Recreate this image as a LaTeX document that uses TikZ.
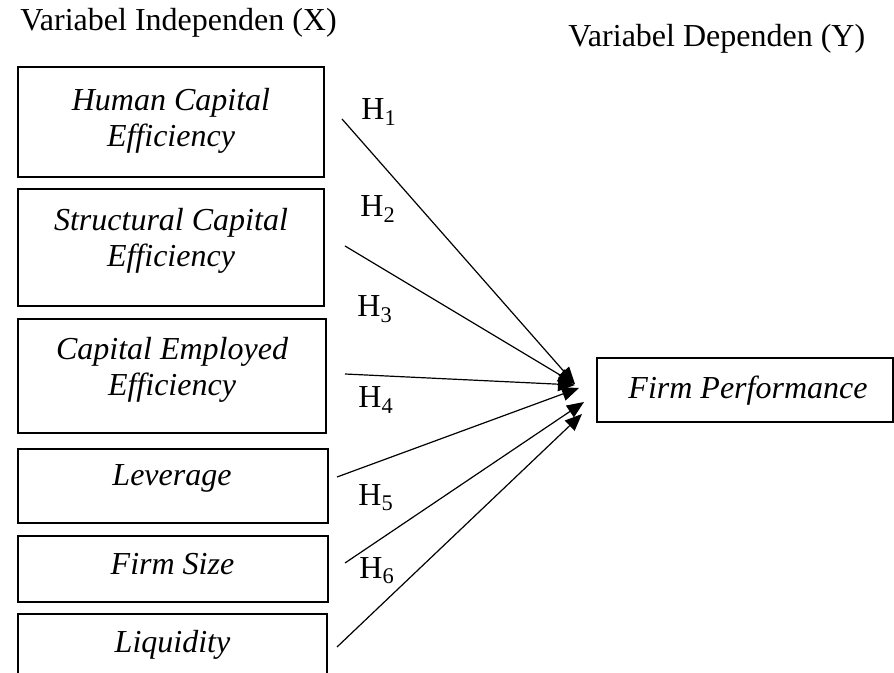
\documentclass[tikz,border=0pt]{standalone}
\usepackage{fontspec}
\setmainfont{Liberation Serif}
\usetikzlibrary{arrows.meta}
\begin{document}
\begin{tikzpicture}[x=0.5pt,y=-0.5pt,
  boxst/.style={draw,line width=1pt,inner sep=0pt,outer sep=0pt},
  txt/.style={font=\fontsize{16}{18}\selectfont,inner sep=0pt,align=center},
  itxt/.style={font=\fontsize{16}{18}\selectfont\itshape,inner sep=0pt,align=center},
  hl/.style={font=\fontsize{16}{18}\selectfont,inner sep=0pt,anchor=base west},
  arr/.style={line width=0.6pt,-{Triangle[length=8.5pt,width=7pt]}}]
\useasboundingbox (0,0) rectangle (894,673);
% titles
\node[txt,anchor=base west] (tx) at (20,31) {Variabel Independen (X)};
\node[txt,anchor=base west] (ty) at (568,47) {Variabel Dependen (Y)};
% boxes
\node[boxst,minimum width=153pt,minimum height=55pt] (b1) at (171,122) {};
\node[boxst,minimum width=153pt,minimum height=58.5pt] (b2) at (171,247.5) {};
\node[boxst,minimum width=154pt,minimum height=57pt] (b3) at (172,376) {};
\node[boxst,minimum width=155pt,minimum height=37pt] (b4) at (173,486) {};
\node[boxst,minimum width=155pt,minimum height=33pt] (b5) at (173,569) {};
\draw[line width=1pt] (18,673) -- (18,614) -- (327,614) -- (327,673);
\node[boxst,minimum width=148pt,minimum height=32pt] (fp) at (745,390) {};
% box texts
\node[itxt] (t1) at (171,121) {Human Capital\\Efficiency};
\node[itxt] (t2) at (171,241) {Structural Capital\\Efficiency};
\node[itxt] (t3) at (172,370) {Capital Employed\\Efficiency};
\node[itxt,anchor=base] (t4) at (172,486) {Leverage};
\node[itxt,anchor=base] (t5) at (172.5,574) {Firm Size};
\node[itxt,anchor=base] (t6) at (172.5,652) {Liquidity};
\node[itxt,anchor=base] (tfp) at (748,399) {Firm Performance};
% hypothesis labels
\node[hl] (h1) at (361,120) {H\textsubscript{1}};
\node[hl] (h2) at (360,217) {H\textsubscript{2}};
\node[hl] (h3) at (357,317) {H\textsubscript{3}};
\node[hl] (h4) at (358,408) {H\textsubscript{4}};
\node[hl] (h5) at (358,505) {H\textsubscript{5}};
\node[hl] (h6) at (359,578) {H\textsubscript{6}};
% arrow end points
\coordinate (s1) at (342,119); \coordinate (e1) at (575,384);
\coordinate (s2) at (345,246); \coordinate (e2) at (575,384);
\coordinate (s3) at (345,374); \coordinate (e3) at (575,385);
\coordinate (s4) at (337,477); \coordinate (e4) at (579,388);
\coordinate (s5) at (345,563); \coordinate (e5) at (584,402);
\coordinate (s6) at (337,647); \coordinate (e6) at (582,414);
\draw[arr] (s1) -- (e1);
\draw[arr] (s2) -- (e2);
\draw[arr] (s3) -- (e3);
\draw[arr] (s4) -- (e4);
\draw[arr] (s5) -- (e5);
\draw[arr] (s6) -- (e6);
\end{tikzpicture}
\end{document}
